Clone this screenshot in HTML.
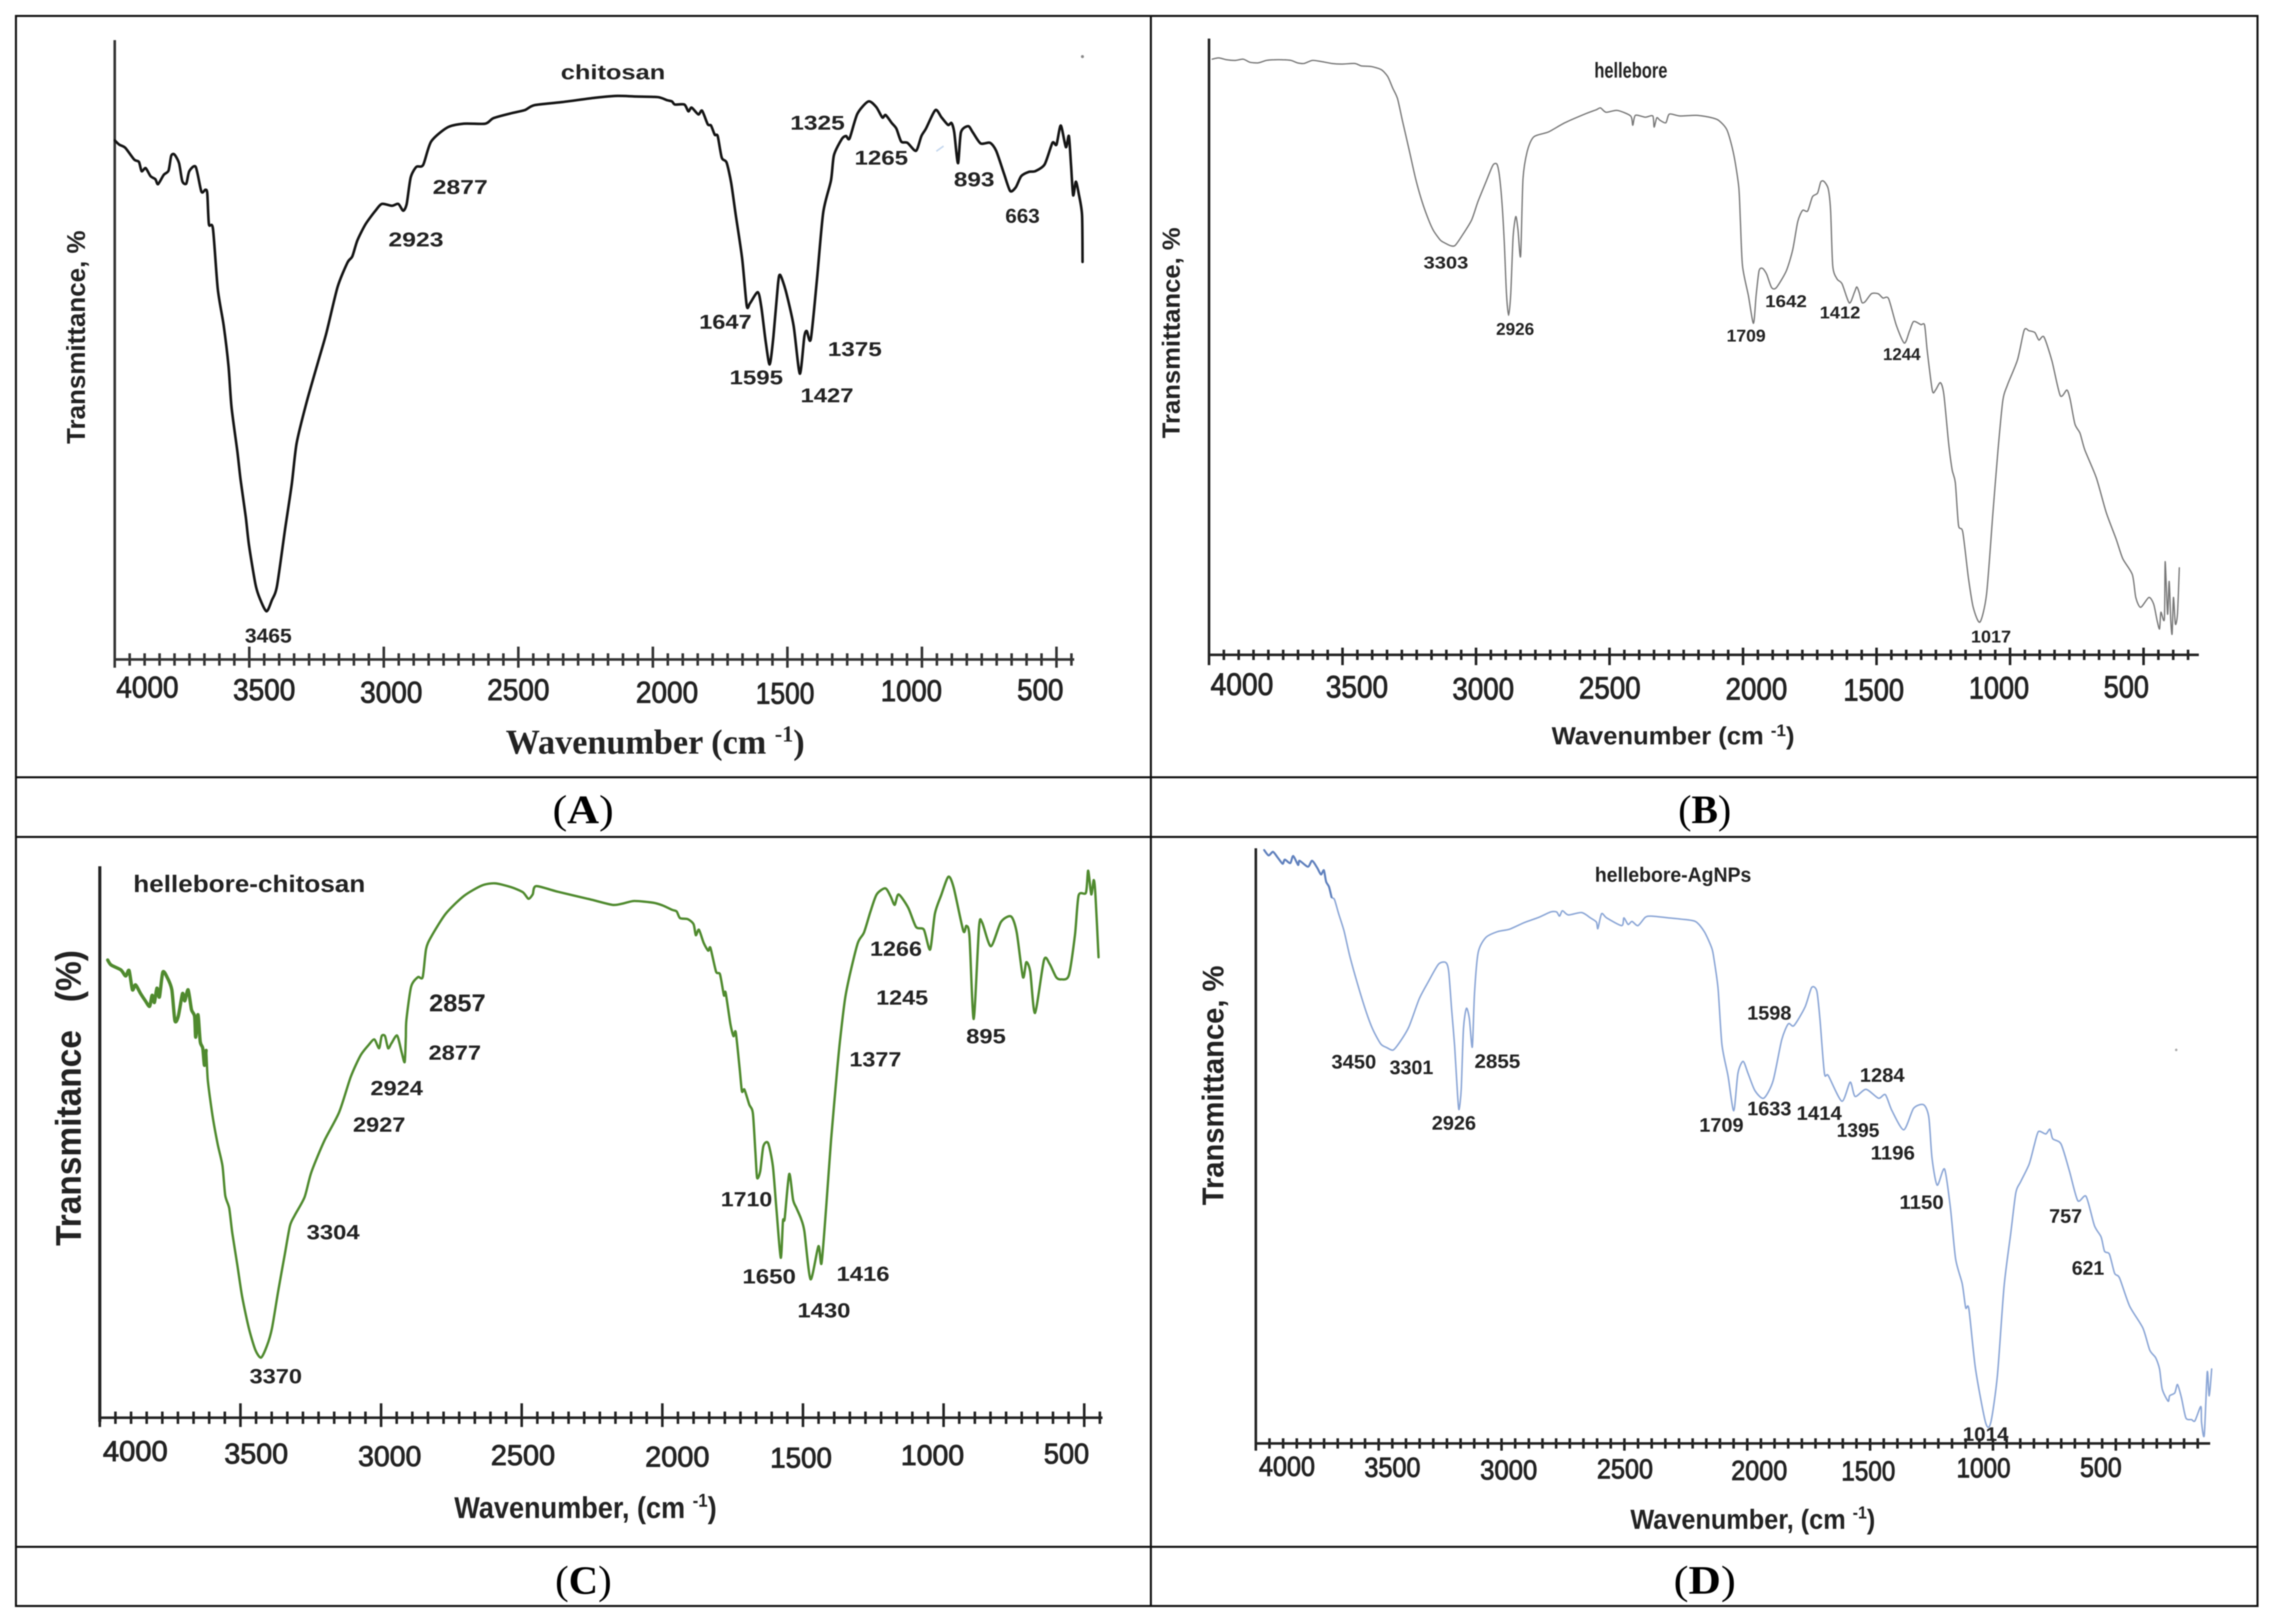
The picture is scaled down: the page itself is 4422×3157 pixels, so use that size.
<!DOCTYPE html>
<html lang="en">
<head>
<meta charset="utf-8">
<title>FTIR spectra of chitosan, hellebore, hellebore-chitosan and hellebore-AgNPs</title>
<style>
html,body{margin:0;padding:0;background:#fff;}
#figure{display:block;width:4422px;height:3157px;filter:blur(1px);}
text{font-family:"Liberation Sans",sans-serif;font-weight:bold;fill:#222;}
.serif{font-family:"Liberation Serif",serif;}
.caption{font-family:"Liberation Serif",serif;font-size:78px;fill:#000;font-weight:normal;}
.caption tspan{font-weight:bold;}
.pa{font-size:39px;}
.pb{font-size:33px;}
.pc{font-size:40px;}
.pd{font-size:38px;}
.ta,.tb,.tc,.td{font-weight:normal;fill:#222;stroke:#222;stroke-width:1.6px;}
.ta{font-size:58px;}
.tb{font-size:60px;}
.tc{font-size:56px;}
.td{font-size:54px;}
</style>
</head>
<body>
<svg id="figure" xmlns="http://www.w3.org/2000/svg" width="4422" height="3157" viewBox="0 0 4422 3157">
  <rect x="0" y="0" width="4422" height="3157" fill="#fff"/>

  <g stroke="#111" stroke-width="4" fill="none">
    <rect x="31" y="31" width="4357" height="3091"/>
    <line x1="2237" y1="31" x2="2237" y2="3122"/>
    <line x1="31" y1="1511" x2="4388" y2="1511"/>
    <line x1="31" y1="1627" x2="4388" y2="1627"/>
    <line x1="31" y1="3007" x2="4388" y2="3007"/>
  </g>

  <text class="caption" x="1074" y="1600" textLength="119" lengthAdjust="spacingAndGlyphs">(<tspan>A</tspan>)</text>
  <text class="caption" x="3262" y="1600" textLength="103" lengthAdjust="spacingAndGlyphs">(<tspan>B</tspan>)</text>
  <text class="caption" x="1079" y="3098" textLength="110" lengthAdjust="spacingAndGlyphs">(<tspan>C</tspan>)</text>
  <text class="caption" x="3253" y="3098" textLength="121" lengthAdjust="spacingAndGlyphs">(<tspan>D</tspan>)</text>

  <!-- Panel A -->
  <g id="panel-a">
    <text x="1090" y="154" font-size="40" textLength="203" lengthAdjust="spacingAndGlyphs">chitosan</text>
    <text transform="translate(165,863) rotate(-90)" font-size="50" textLength="415" lengthAdjust="spacingAndGlyphs">Transmittance, %</text>
    <text class="serif" x="983" y="1465" font-size="68" textLength="581" lengthAdjust="spacingAndGlyphs">Wavenumber (cm <tspan font-size="44" dy="-24">-1</tspan><tspan dy="24">)</tspan></text>
    <text class="ta" x="226" y="1356" textLength="121" lengthAdjust="spacingAndGlyphs">4000</text>
    <text class="ta" x="453" y="1361" textLength="121" lengthAdjust="spacingAndGlyphs">3500</text>
    <text class="ta" x="700" y="1366" textLength="121" lengthAdjust="spacingAndGlyphs">3000</text>
    <text class="ta" x="947" y="1361" textLength="121" lengthAdjust="spacingAndGlyphs">2500</text>
    <text class="ta" x="1236" y="1366" textLength="121" lengthAdjust="spacingAndGlyphs">2000</text>
    <text class="ta" x="1469" y="1368" textLength="114" lengthAdjust="spacingAndGlyphs">1500</text>
    <text class="ta" x="1712" y="1363" textLength="119" lengthAdjust="spacingAndGlyphs">1000</text>
    <text class="ta" x="1977" y="1361" textLength="90" lengthAdjust="spacingAndGlyphs">500</text>
    <text class="pa" x="476" y="1249" textLength="91" lengthAdjust="spacingAndGlyphs">3465</text>
    <text class="pa" x="841" y="377" textLength="107" lengthAdjust="spacingAndGlyphs">2877</text>
    <text class="pa" x="755" y="479" textLength="107" lengthAdjust="spacingAndGlyphs">2923</text>
    <text class="pa" x="1536" y="252" textLength="106" lengthAdjust="spacingAndGlyphs">1325</text>
    <text class="pa" x="1661" y="320" textLength="104" lengthAdjust="spacingAndGlyphs">1265</text>
    <text class="pa" x="1854" y="362" textLength="79" lengthAdjust="spacingAndGlyphs">893</text>
    <text class="pa" x="1954" y="433" textLength="67" lengthAdjust="spacingAndGlyphs">663</text>
    <text class="pa" x="1359" y="639" textLength="102" lengthAdjust="spacingAndGlyphs">1647</text>
    <text class="pa" x="1418" y="747" textLength="104" lengthAdjust="spacingAndGlyphs">1595</text>
    <text class="pa" x="1609" y="692" textLength="105" lengthAdjust="spacingAndGlyphs">1375</text>
    <text class="pa" x="1556" y="782" textLength="103" lengthAdjust="spacingAndGlyphs">1427</text>
    <circle cx="2104" cy="110" r="3" fill="#888"/>
    <line x1="1820" y1="294" x2="1834" y2="284" stroke="#c3d6ee" stroke-width="3"/>
  </g>

  <!-- Panel B -->
  <g id="panel-b">
    <text x="3099" y="151" font-size="42" textLength="142" lengthAdjust="spacingAndGlyphs">hellebore</text>
    <text transform="translate(2293,852) rotate(-90)" font-size="48" textLength="410" lengthAdjust="spacingAndGlyphs">Transmittance, %</text>
    <text x="3016" y="1447" font-size="48" textLength="472" lengthAdjust="spacingAndGlyphs">Wavenumber (cm <tspan font-size="32" dy="-16">-1</tspan><tspan dy="16">)</tspan></text>
    <text class="tb" x="2353" y="1351" textLength="122" lengthAdjust="spacingAndGlyphs">4000</text>
    <text class="tb" x="2577" y="1356" textLength="121" lengthAdjust="spacingAndGlyphs">3500</text>
    <text class="tb" x="2823" y="1360" textLength="120" lengthAdjust="spacingAndGlyphs">3000</text>
    <text class="tb" x="3069" y="1358" textLength="120" lengthAdjust="spacingAndGlyphs">2500</text>
    <text class="tb" x="3354" y="1360" textLength="120" lengthAdjust="spacingAndGlyphs">2000</text>
    <text class="tb" x="3583" y="1362" textLength="118" lengthAdjust="spacingAndGlyphs">1500</text>
    <text class="tb" x="3827" y="1358" textLength="117" lengthAdjust="spacingAndGlyphs">1000</text>
    <text class="tb" x="4089" y="1356" textLength="88" lengthAdjust="spacingAndGlyphs">500</text>
    <text class="pb" x="2767" y="522" textLength="87" lengthAdjust="spacingAndGlyphs">3303</text>
    <text class="pb" x="2908" y="651" textLength="74" lengthAdjust="spacingAndGlyphs">2926</text>
    <text class="pb" x="3356" y="664" textLength="76" lengthAdjust="spacingAndGlyphs">1709</text>
    <text class="pb" x="3431" y="597" textLength="81" lengthAdjust="spacingAndGlyphs">1642</text>
    <text class="pb" x="3537" y="619" textLength="79" lengthAdjust="spacingAndGlyphs">1412</text>
    <text class="pb" x="3660" y="700" textLength="73" lengthAdjust="spacingAndGlyphs">1244</text>
    <text class="pb" x="3831" y="1249" textLength="78" lengthAdjust="spacingAndGlyphs">1017</text>
  </g>

  <!-- Panel C -->
  <g id="panel-c">
    <text x="259" y="1734" font-size="46" textLength="451" lengthAdjust="spacingAndGlyphs">hellebore-chitosan</text>
    <text transform="translate(157,2422) rotate(-90)" font-size="70" textLength="575" lengthAdjust="spacingAndGlyphs" style="white-space:pre">Transmitance   (%)</text>
    <text x="883" y="2951" font-size="58" textLength="510" lengthAdjust="spacingAndGlyphs">Wavenumber, (cm <tspan font-size="36" dy="-22">-1</tspan><tspan dy="22">)</tspan></text>
    <text class="tc" x="200" y="2840" textLength="126" lengthAdjust="spacingAndGlyphs">4000</text>
    <text class="tc" x="436" y="2845" textLength="124" lengthAdjust="spacingAndGlyphs">3500</text>
    <text class="tc" x="696" y="2850" textLength="123" lengthAdjust="spacingAndGlyphs">3000</text>
    <text class="tc" x="954" y="2848" textLength="125" lengthAdjust="spacingAndGlyphs">2500</text>
    <text class="tc" x="1254" y="2851" textLength="125" lengthAdjust="spacingAndGlyphs">2000</text>
    <text class="tc" x="1497" y="2853" textLength="120" lengthAdjust="spacingAndGlyphs">1500</text>
    <text class="tc" x="1751" y="2848" textLength="123" lengthAdjust="spacingAndGlyphs">1000</text>
    <text class="tc" x="2029" y="2845" textLength="88" lengthAdjust="spacingAndGlyphs">500</text>
    <text x="834" y="1966" font-size="47" textLength="110" lengthAdjust="spacingAndGlyphs">2857</text>
    <text class="pc" x="833" y="2060" textLength="102" lengthAdjust="spacingAndGlyphs">2877</text>
    <text class="pc" x="720" y="2129" textLength="102" lengthAdjust="spacingAndGlyphs">2924</text>
    <text class="pc" x="686" y="2200" textLength="102" lengthAdjust="spacingAndGlyphs">2927</text>
    <text class="pc" x="596" y="2409" textLength="103" lengthAdjust="spacingAndGlyphs">3304</text>
    <text class="pc" x="485" y="2689" textLength="102" lengthAdjust="spacingAndGlyphs">3370</text>
    <text class="pc" x="1691" y="1858" textLength="101" lengthAdjust="spacingAndGlyphs">1266</text>
    <text class="pc" x="1703" y="1953" textLength="101" lengthAdjust="spacingAndGlyphs">1245</text>
    <text class="pc" x="1878" y="2028" textLength="77" lengthAdjust="spacingAndGlyphs">895</text>
    <text class="pc" x="1651" y="2073" textLength="101" lengthAdjust="spacingAndGlyphs">1377</text>
    <text class="pc" x="1401" y="2345" textLength="100" lengthAdjust="spacingAndGlyphs">1710</text>
    <text class="pc" x="1443" y="2495" textLength="104" lengthAdjust="spacingAndGlyphs">1650</text>
    <text class="pc" x="1626" y="2490" textLength="103" lengthAdjust="spacingAndGlyphs">1416</text>
    <text class="pc" x="1550" y="2561" textLength="103" lengthAdjust="spacingAndGlyphs">1430</text>
  </g>

  <!-- Panel D -->
  <g id="panel-d">
    <text x="3100" y="1714" font-size="40" textLength="304" lengthAdjust="spacingAndGlyphs">hellebore-AgNPs</text>
    <text transform="translate(2378,2343) rotate(-90)" font-size="58" textLength="466" lengthAdjust="spacingAndGlyphs">Transmittance, %</text>
    <text x="3169" y="2972" font-size="54" textLength="476" lengthAdjust="spacingAndGlyphs">Wavenumber, (cm <tspan font-size="34" dy="-20">-1</tspan><tspan dy="20">)</tspan></text>
    <text class="td" x="2447" y="2869" textLength="109" lengthAdjust="spacingAndGlyphs">4000</text>
    <text class="td" x="2652" y="2871" textLength="109" lengthAdjust="spacingAndGlyphs">3500</text>
    <text class="td" x="2877" y="2876" textLength="111" lengthAdjust="spacingAndGlyphs">3000</text>
    <text class="td" x="3104" y="2874" textLength="109" lengthAdjust="spacingAndGlyphs">2500</text>
    <text class="td" x="3365" y="2877" textLength="109" lengthAdjust="spacingAndGlyphs">2000</text>
    <text class="td" x="3579" y="2878" textLength="105" lengthAdjust="spacingAndGlyphs">1500</text>
    <text class="td" x="3803" y="2872" textLength="105" lengthAdjust="spacingAndGlyphs">1000</text>
    <text class="td" x="4043" y="2871" textLength="81" lengthAdjust="spacingAndGlyphs">500</text>
    <text class="pd" x="2588" y="2077" textLength="87" lengthAdjust="spacingAndGlyphs">3450</text>
    <text class="pd" x="2701" y="2088" textLength="85" lengthAdjust="spacingAndGlyphs">3301</text>
    <text class="pd" x="2866" y="2076" textLength="89" lengthAdjust="spacingAndGlyphs">2855</text>
    <text class="pd" x="2783" y="2196" textLength="86" lengthAdjust="spacingAndGlyphs">2926</text>
    <text class="pd" x="3303" y="2200" textLength="86" lengthAdjust="spacingAndGlyphs">1709</text>
    <text class="pd" x="3396" y="2168" textLength="86" lengthAdjust="spacingAndGlyphs">1633</text>
    <text class="pd" x="3492" y="2177" textLength="88" lengthAdjust="spacingAndGlyphs">1414</text>
    <text class="pd" x="3570" y="2210" textLength="83" lengthAdjust="spacingAndGlyphs">1395</text>
    <text class="pd" x="3396" y="1982" textLength="86" lengthAdjust="spacingAndGlyphs">1598</text>
    <text class="pd" x="3615" y="2103" textLength="87" lengthAdjust="spacingAndGlyphs">1284</text>
    <text class="pd" x="3636" y="2254" textLength="86" lengthAdjust="spacingAndGlyphs">1196</text>
    <text class="pd" x="3692" y="2350" textLength="86" lengthAdjust="spacingAndGlyphs">1150</text>
    <text class="pd" x="3983" y="2377" textLength="64" lengthAdjust="spacingAndGlyphs">757</text>
    <text class="pd" x="4027" y="2478" textLength="63" lengthAdjust="spacingAndGlyphs">621</text>
    <text class="pd" x="3815" y="2801" textLength="89" lengthAdjust="spacingAndGlyphs">1014</text>
    <circle cx="4230" cy="2041" r="2.5" fill="#aaa"/>
  </g>
</svg>

<script>
// ---- Shared x-axis tick values (cm^-1) ----
const majorTickValues = [4000, 3500, 3000, 2500, 2000, 1500, 1000, 500];
const minorTicksPerMajor = 9;

// ---- Chitosan spectrum (panel A) ----
const chitosanWavenumbers = [
4000,3983,3961,3928,3910,3900,3885,3867,3849,3839,3818,3800,3790,3778,3761,3749,3734,3723,3699,3678,
3663,3656,3650,3635,3617,3595,3577,3566,3544,3532,3513,3501,3477,3461,3436,3416,3397,3367,3342,3324,
3288,3245,3214,3172,3135,3117,3098,3068,3031,3007,2970,2946,2928,2915,2900,2879,2854,2824,2763,2702,
2623,2592,2525,2476,2440,2336,2214,2131,2062,1981,1947,1929,1918,1883,1868,1856,1831,1817,1796,1784,
1770,1759,1744,1726,1709,1692,1668,1651,1639,1610,1597,1581,1566,1552,1535,1527,1506,1477,1454,1437,
1428,1413,1390,1367,1338,1327,1298,1282,1269,1240,1199,1170,1147,1135,1112,1095,1077,1054,1022,1002,
985,950,927,903,890,880,866,855,828,811,782,747,724,695,672,651,631,602,579,544,
515,500,484,465,454,446,438,428,417,405,403];
const chitosanTransmittance = [
84.1,83.4,82.9,81.0,80.6,79.1,79.6,78.3,77.8,77.0,78.5,79.2,81.6,81.8,80.4,77.5,77.1,79.1,79.8,75.8,
76.1,75.5,70.5,69.8,60.0,54.1,47.5,40.9,33.6,29.0,23.1,18.5,12.2,9.9,7.8,9.6,11.9,21.1,28.4,35.0,
41.5,48.1,52.8,60.3,64.3,65.3,67.9,70.5,72.7,73.8,73.5,73.8,72.7,73.8,78.1,79.8,80.1,83.9,86.2,86.8,
86.8,87.7,88.5,89.0,89.8,90.3,91.0,91.3,91.2,91.1,90.6,90.4,89.9,89.9,88.8,89.4,88.3,88.9,86.7,86.5,
85.0,84.8,81.3,80.5,77.2,72.0,64.9,57.3,57.7,59.5,57.1,51.6,47.8,52.3,60.8,62.3,59.7,54.1,46.3,52.3,
53.2,51.9,61.6,72.4,77.6,81.7,84.3,84.8,84.4,88.4,90.4,89.5,87.8,88.2,86.9,86.0,83.9,83.7,82.4,84.8,
86.0,89.0,87.8,86.6,86.9,85.4,80.4,85.4,86.4,85.4,83.6,83.7,82.4,78.7,75.9,76.5,78.3,79.0,79.1,80.2,
83.7,83.4,86.5,83.0,84.8,80.2,75.2,77.4,75.4,72.0,64.4];

// ---- Hellebore spectrum (panel B) ----
const helleboreWavenumbers = [
3988,3964,3933,3902,3872,3847,3816,3785,3755,3724,3693,3669,3644,3613,3577,3540,3503,3454,3429,3392,
3355,3331,3312,3294,3275,3251,3226,3202,3177,3159,3134,3116,3097,3079,3054,3017,2993,2962,2937,2922,
2913,2903,2894,2886,2878,2870,2861,2851,2843,2833,2824,2808,2784,2729,2667,2587,2550,2534,2513,2471,
2421,2413,2403,2366,2338,2333,2323,2311,2289,2276,2237,2175,2126,2092,2060,2035,2016,2010,2002,1980,
1961,1951,1940,1927,1912,1893,1875,1838,1814,1795,1777,1758,1740,1721,1709,1697,1681,1672,1664,1648,
1629,1602,1583,1574,1565,1555,1543,1519,1494,1476,1455,1426,1396,1377,1361,1334,1320,1310,1291,1279,
1261,1248,1230,1217,1205,1193,1177,1156,1138,1113,1088,1064,1045,1027,1009,972,947,929,907,892,
873,843,812,787,775,757,738,720,677,640,603,578,542,529,511,480,462,449,440,435,
422,419,410,404,398,393,388,381,373,366];
const helleboreTransmittance = [
96.5,96.7,96.4,96.3,96.5,96.0,95.9,96.3,96.4,96.4,96.3,95.9,95.8,96.3,96.1,95.8,95.7,95.8,95.4,95.3,
94.8,93.7,91.8,90.1,86.4,81.9,77.1,73.4,70.4,68.7,67.2,66.7,66.3,66.3,67.8,70.4,73.4,76.7,79.3,79.5,
77.8,73.4,66.7,58.5,55.0,58.5,67.8,71.0,68.9,64.6,77.1,81.6,83.9,84.7,86.2,87.7,88.3,88.6,87.9,88.2,
87.3,85.8,87.4,87.1,87.3,85.5,87.0,86.6,86.2,87.6,87.3,87.4,87.1,86.6,85.0,81.1,75.8,70.4,63.0,58.2,
53.7,58.2,62.2,62.6,61.7,59.5,59.5,62.2,65.6,70.2,72.0,71.9,74.2,74.8,76.6,76.7,75.5,72.0,63.0,60.9,
60.1,57.0,58.7,59.6,58.7,57.1,57.2,58.5,58.5,57.8,57.7,53.4,50.5,52.4,54.0,53.5,53.4,49.2,42.8,42.9,
44.1,42.2,34.3,30.0,27.9,21.0,19.9,12.5,7.7,5.3,9.8,23.1,33.2,41.2,43.8,47.8,52.6,52.5,52.2,51.0,
51.5,47.6,42.0,42.9,41.4,37.4,35.9,33.2,28.7,23.1,18.8,15.6,13.0,9.3,7.7,9.3,8.2,5.5,4.2,6.9,
5.8,15.1,6.6,11.9,5.5,3.4,9.3,5.0,6.6,14.1];

// ---- Hellebore-chitosan spectrum (panel C) ----
const helleboreChitosanWavenumbers = [
3972,3960,3925,3908,3896,3884,3873,3855,3838,3823,3814,3806,3797,3788,3776,3760,3744,3733,3721,3706,
3698,3686,3674,3663,3659,3651,3643,3634,3628,3622,3616,3599,3581,3564,3554,3540,3529,3511,3494,3470,
3447,3427,3406,3388,3365,3342,3324,3307,3272,3248,3202,3149,3108,3073,3044,3024,3007,2998,2986,2975,
2963,2943,2927,2916,2912,2910,2893,2869,2852,2840,2822,2770,2706,2642,2595,2537,2496,2476,2461,2449,
2373,2257,2178,2144,2100,2033,1999,1965,1949,1937,1909,1889,1881,1870,1853,1837,1829,1809,1795,1781,
1775,1758,1747,1739,1725,1717,1708,1691,1678,1669,1663,1652,1641,1624,1607,1594,1579,1571,1565,1549,
1535,1523,1507,1495,1473,1445,1434,1417,1400,1378,1367,1350,1333,1305,1283,1260,1238,1207,1188,1174,
1160,1126,1098,1070,1048,1031,1009,983,964,930,919,908,893,874,863,832,796,760,740,718,
706,692,675,643,623,600,583,555,533,520,494,486,475,466,460,449];
const helleboreChitosanTransmittance = [
83.0,82.1,81.2,80.1,81.1,77.6,78.5,76.9,75.6,74.6,76.6,75.3,77.9,76.3,80.8,79.8,77.6,72.0,72.8,76.9,
75.6,77.6,74.0,72.8,69.0,73.1,68.2,67.0,63.9,66.6,61.2,54.7,49.6,45.7,40.3,38.0,33.5,27.7,22.0,16.2,
12.3,10.9,13.0,16.2,23.2,29.7,34.8,36.7,40.0,44.5,50.2,55.4,61.8,65.7,67.6,68.6,67.0,69.2,69.2,67.0,
67.9,69.3,66.3,64.5,68.9,72.1,78.2,79.9,79.9,85.0,87.2,91.4,94.6,96.5,96.9,96.2,95.3,94.1,94.9,96.4,
95.4,94.0,93.0,93.2,93.7,93.4,92.9,92.1,91.8,90.6,90.4,89.5,87.5,88.5,86.1,84.7,85.2,80.9,80.4,76.6,
77.1,71.4,69.2,69.9,63.3,59.2,59.5,56.8,55.2,48.0,43.5,44.7,49.2,49.8,45.6,37.6,29.0,35.7,36.1,44.2,
39.5,38.0,36.1,33.8,25.1,31.1,28.0,38.5,50.4,63.3,69.0,76.1,80.4,86.1,88.0,91.8,94.9,96.0,94.5,93.0,
94.9,92.5,89.0,88.5,84.9,91.4,94.7,98.1,96.1,88.3,89.2,87.3,72.3,89.0,89.8,85.5,89.9,90.9,88.0,79.9,
82.6,80.9,73.4,83.0,82.3,79.9,79.5,80.2,87.5,94.7,95.2,99.2,94.9,97.5,94.7,83.5];

// ---- Hellebore-AgNPs spectrum (panel D) ----
const helleboreAgnpsWavenumbers = [
3966,3948,3930,3912,3891,3882,3860,3848,3828,3822,3788,3771,3750,3735,3723,3714,3702,3692,3680,3663,
3641,3617,3581,3545,3521,3491,3467,3441,3413,3377,3335,3299,3257,3227,3215,3203,3191,3179,3173,3164,
3155,3143,3131,3119,3110,3095,3064,3016,2968,2908,2848,2800,2776,2764,2752,2728,2674,2638,2614,2608,
2593,2572,2511,2502,2485,2469,2445,2415,2391,2319,2271,2211,2175,2145,2137,2119,2103,2078,2055,2038,
2017,1997,1969,1933,1895,1860,1833,1810,1765,1738,1717,1704,1686,1670,1615,1581,1561,1517,1466,1438,
1411,1363,1323,1282,1261,1248,1227,1197,1173,1152,1125,1111,1098,1071,1030,1009,982,955,928,907,
887,853,832,815,785,768,757,723,689,655,621,587,560,546,526,505,485,444,390,362,
338,322,311,287,281,260,249,233,215,192,178,154,151,140,128,120,110];
const helleboreAgnpsTransmittance = [
99.7,98.8,99.4,98.5,97.4,98.1,97.5,98.7,97.2,97.9,96.9,97.9,96.7,95.6,96.3,94.4,93.5,91.8,91.4,89.0,
86.1,81.8,76.5,71.8,69.3,67.1,66.5,66.1,67.5,70.0,74.7,77.5,80.5,80.8,79.3,72.9,66.8,58.6,56.1,59.6,
69.7,73.1,71.4,66.6,75.7,82.5,85.0,86.0,86.4,87.5,88.4,89.3,89.3,88.6,89.5,88.8,89.2,88.3,87.6,86.5,
89.0,88.3,87.0,88.3,87.2,87.7,87.0,88.4,88.6,88.3,88.1,87.7,86.0,83.3,81.8,76.5,67.0,61.7,55.9,62.2,
64.2,62.2,59.3,58.0,60.9,67.8,70.5,70.2,73.3,76.6,76.0,71.2,62.2,61.8,57.5,60.7,58.3,59.5,58.0,58.6,
55.9,52.7,56.3,56.9,54.8,47.9,43.4,46.1,39.5,31.0,26.8,22.8,22.6,12.5,3.5,3.5,11.4,26.3,35.2,42.1,
44.0,46.9,50.1,52.4,52.0,52.8,51.2,50.3,45.8,40.8,41.5,36.6,34.7,32.3,31.8,28.6,27.8,23.1,19.4,15.7,
14.4,12.5,9.1,7.1,8.0,8.5,9.9,7.7,4.3,4.0,3.8,6.2,3.5,1.4,12.0,8.0,12.5];

const SVG_NS = 'http://www.w3.org/2000/svg';

// Rounds the corners of a point list with low-tension cubic segments.
function smoothPath(pts) {
  const k = 1 / 8;
  let d = 'M' + pts[0][0].toFixed(1) + ' ' + pts[0][1].toFixed(1);
  for (let i = 0; i < pts.length - 1; i++) {
    const p0 = pts[Math.max(i - 1, 0)];
    const p1 = pts[i];
    const p2 = pts[i + 1];
    const p3 = pts[Math.min(i + 2, pts.length - 1)];
    const c1x = p1[0] + (p2[0] - p0[0]) * k;
    const c1y = p1[1] + (p2[1] - p0[1]) * k;
    const c2x = p2[0] - (p3[0] - p1[0]) * k;
    const c2y = p2[1] - (p3[1] - p1[1]) * k;
    d += 'C' + c1x.toFixed(1) + ' ' + c1y.toFixed(1) + ' ' + c2x.toFixed(1) + ' ' + c2y.toFixed(1) + ' ' + p2[0].toFixed(1) + ' ' + p2[1].toFixed(1);
  }
  return d;
}

function drawPanel(groupId, cfg, wavenumbers, transmittance) {
  const group = document.getElementById(groupId);
  const xScale = function (w) { return cfg.xOrigin + (4000 - w) * cfg.pxPerWavenumber; };
  const yScale = function (t) { return cfg.yBase - t * cfg.pxPerPercent; };

  const yAxis = document.createElementNS(SVG_NS, 'line');
  
  
  yAxis.setAttribute('x1', xScale(4000));
  yAxis.setAttribute('x2', xScale(4000));
  yAxis.setAttribute('y1', cfg.axisTop);
  yAxis.setAttribute('y2', yScale(0) + 8);
  yAxis.setAttribute('stroke', cfg.axisColor);
  yAxis.setAttribute('stroke-width', cfg.yAxisWidth);
  group.appendChild(yAxis);

  const xAxis = document.createElementNS(SVG_NS, 'line');
  
  
  xAxis.setAttribute('x1', xScale(4000));
  xAxis.setAttribute('x2', xScale(cfg.xEnd));
  xAxis.setAttribute('y1', yScale(0));
  xAxis.setAttribute('y2', yScale(0));
  xAxis.setAttribute('stroke', cfg.axisColor);
  xAxis.setAttribute('stroke-width', 5);
  group.appendChild(xAxis);

  const step = (majorTickValues[0] - majorTickValues[1]) / minorTicksPerMajor;
  for (let k = 0; 4000 - k * step >= cfg.xEnd; k++) {
    const w = 4000 - k * step;
    const isMajor = k % minorTicksPerMajor === 0;
    const tick = document.createElementNS(SVG_NS, 'line');
    
    
    tick.setAttribute('x1', xScale(w));
    tick.setAttribute('x2', xScale(w));
    tick.setAttribute('y1', yScale(0) - (isMajor ? cfg.majorUp : cfg.minorLen));
    tick.setAttribute('y2', yScale(0) + (isMajor ? cfg.majorDown : cfg.minorLen));
    tick.setAttribute('stroke', cfg.axisColor);
    tick.setAttribute('stroke-width', 5);
    group.appendChild(tick);
  }

  const pts = wavenumbers.map(function (w, i) { return [xScale(w), yScale(transmittance[i])]; });
  const curve = document.createElementNS(SVG_NS, 'path');
  
  
  curve.setAttribute('d', smoothPath(pts));
  curve.setAttribute('fill', 'none');
  curve.setAttribute('stroke', cfg.lineColor);
  curve.setAttribute('stroke-width', cfg.lineWidth);
  curve.setAttribute('stroke-linejoin', 'round');
  curve.setAttribute('stroke-linecap', 'round');
  group.appendChild(curve);

  if (cfg.noisyAbove) {
    const noisyPts = pts.filter(function (p, i) { return wavenumbers[i] >= cfg.noisyAbove; });
    const noisy = document.createElementNS(SVG_NS, 'path');
    
    
    noisy.setAttribute('d', smoothPath(noisyPts));
    noisy.setAttribute('fill', 'none');
    noisy.setAttribute('stroke', cfg.noisyColor);
    noisy.setAttribute('stroke-width', cfg.noisyWidth);
    noisy.setAttribute('stroke-linejoin', 'round');
    noisy.setAttribute('stroke-linecap', 'round');
    group.appendChild(noisy);
  }
}

drawPanel('panel-a', {xOrigin:223, pxPerWavenumber:0.523, yBase:1282, pxPerPercent:12, axisTop:78, xEnd:434,
  axisColor:'#333', yAxisWidth:5, lineColor:'#141414', lineWidth:5, majorUp:25, majorDown:16, minorLen:12},
  chitosanWavenumbers, chitosanTransmittance);

drawPanel('panel-b', {xOrigin:2350, pxPerWavenumber:0.519, yBase:1273, pxPerPercent:12, axisTop:75, xEnd:293,
  axisColor:'#222', yAxisWidth:5, lineColor:'#777', lineWidth:2.6, majorUp:14, majorDown:20, minorLen:10},
  helleboreWavenumbers, helleboreTransmittance);

drawPanel('panel-c', {xOrigin:194, pxPerWavenumber:0.5467, yBase:2756, pxPerPercent:10.72, axisTop:1684, xEnd:435,
  axisColor:'#222', yAxisWidth:6, lineColor:'#4f8a2e', lineWidth:4.6, majorUp:28, majorDown:18, minorLen:12,
  noisyAbove:3620, noisyColor:'#4f8a2e', noisyWidth:6.5},
  helleboreChitosanWavenumbers, helleboreChitosanTransmittance);

drawPanel('panel-d', {xOrigin:2441, pxPerWavenumber:0.4776, yBase:2806, pxPerPercent:11.57, axisTop:1649, xEnd:116,
  axisColor:'#222', yAxisWidth:5, lineColor:'#8ba6d6', lineWidth:3, majorUp:10, majorDown:14, minorLen:10,
  noisyAbove:3690, noisyColor:'#5f80bd', noisyWidth:4},
  helleboreAgnpsWavenumbers, helleboreAgnpsTransmittance);
</script>
</body>
</html>
